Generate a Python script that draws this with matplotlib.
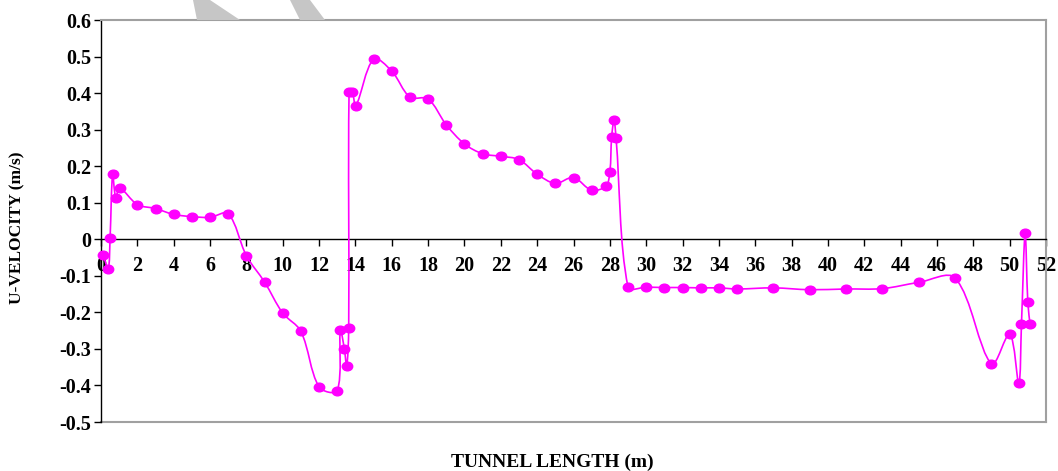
import matplotlib
matplotlib.use("Agg")
import matplotlib.pyplot as plt
import numpy as np
from matplotlib.path import Path
from matplotlib.patches import PathPatch, Polygon
from matplotlib.transforms import Affine2D

# U-velocity along the tunnel
x_m = [0.13, 0.4, 0.5, 0.64, 0.81, 1.03, 2.0, 3.0, 4.0, 5.0, 6.0, 7.0, 8.0, 9.0,
       10.0, 11.0, 12.0, 13.0, 13.17, 13.39, 13.52, 13.63, 13.65, 13.83, 14.02,
       15.0, 16.0, 17.0, 18.0, 19.0, 20.0, 21.0, 22.0, 23.0, 24.0, 25.0, 26.0,
       27.0, 27.79, 28.0, 28.1, 28.23, 28.34, 29.0, 30.0, 31.0, 32.0, 33.0, 34.0,
       35.0, 37.0, 39.0, 41.0, 43.0, 45.0, 47.0, 49.0, 50.0, 50.5, 50.65, 50.85,
       51.0, 51.12]
u_vel = [-0.044, -0.081, 0.004, 0.178, 0.114, 0.14, 0.095, 0.084, 0.068, 0.062,
         0.06, 0.07, -0.045, -0.117, -0.202, -0.252, -0.404, -0.414, -0.248, -0.3,
         -0.348, -0.244, 0.402, 0.403, 0.365, 0.493, 0.46, 0.389, 0.384, 0.313,
         0.261, 0.234, 0.227, 0.218, 0.178, 0.153, 0.169, 0.134, 0.146, 0.184,
         0.28, 0.326, 0.278, -0.131, -0.131, -0.132, -0.132, -0.133, -0.133,
         -0.136, -0.133, -0.138, -0.136, -0.135, -0.118, -0.106, -0.341, -0.259,
         -0.394, -0.231, 0.016, -0.173, -0.231]

x_ticks = list(range(0, 53, 2))
y_ticks = [0.6, 0.5, 0.4, 0.3, 0.2, 0.1, 0, -0.1, -0.2, -0.3, -0.4, -0.5]
y_tick_labels = ['0.6', '0.5', '0.4', '0.3', '0.2', '0.1', '0',
                 '-0.1', '-0.2', '-0.3', '-0.4', '-0.5']


def smooth_path(ax, xs, ys):
    """Bezier 'smoothed line' through the points, tangents weighted by the
    on-screen length of the neighbouring segments."""
    p = np.column_stack([xs, ys]).astype(float)
    s = ax.transData.transform(p)          # pixel space for segment lengths
    n = len(p)
    d = np.hypot(*np.diff(s, axis=0).T)    # d[i] = length of segment i -> i+1

    def tangent(i):
        a = p[max(i - 1, 0)]
        b = p[min(i + 1, n - 1)]
        return b - a

    verts = [p[0]]
    codes = [Path.MOVETO]
    for i in range(n - 1):
        dp = d[i - 1] if i > 0 else 0.0
        dn = d[i + 1] if i + 1 < n - 1 else 0.0
        f1 = d[i] / (dp + d[i]) / 3.0 if i > 0 else 1.0 / 6.0
        f2 = d[i] / (d[i] + dn) / 3.0 if i + 1 < n - 1 else 1.0 / 6.0
        c1 = p[i] + tangent(i) * f1
        c2 = p[i + 1] - tangent(i + 1) * f2
        verts += [c1, c2, p[i + 1]]
        codes += [Path.CURVE4] * 3
    return Path(verts, codes)


plt.rcParams['font.family'] = ['Liberation Serif', 'DejaVu Serif']
plt.rcParams['font.weight'] = 'bold'

fig = plt.figure(figsize=(10.58, 4.71), dpi=100)

# faint grey strokes peeking above the plot area
for pts in ([(193, 0), (210, 0), (240, 20), (197, 20)],
            [(290, 0), (310, 0), (325, 20), (300, 20)]):
    fig.patches.append(Polygon([(px / 1058, 1 - py / 471) for px, py in pts],
                               closed=True, transform=fig.transFigure,
                               facecolor='#c6c6c6', edgecolor='none'))

ax = fig.add_axes([101 / 1058, 49 / 471, 945 / 1058, 402 / 471])
ax.set_xlim(0, 52)
ax.set_ylim(-0.5, 0.6)

# slightly wide oval marker
oval = Path.unit_circle().transformed(Affine2D().scale(1.2, 1.0))

ax.add_patch(PathPatch(smooth_path(ax, x_m, u_vel), facecolor='none',
                       edgecolor='#ff00ff', linewidth=1.2, zorder=3))
ax.plot(x_m, u_vel, linestyle='none', marker=oval, markersize=7.5,
        color='#ff00ff', zorder=4, clip_on=False)

# grey outer frame, black axes through the origin
for side in ('top', 'right'):
    ax.spines[side].set_color('#a0a0a0')
    ax.spines[side].set_linewidth(1.5)
ax.axhline(-0.5, color='#a0a0a0', linewidth=1.5, clip_on=False, zorder=1)
ax.spines['bottom'].set_position(('data', 0))
ax.spines['bottom'].set_color('black')
ax.spines['bottom'].set_linewidth(1.0)
ax.spines['left'].set_color('black')
ax.spines['left'].set_linewidth(1.0)

ax.set_xticks(x_ticks)
ax.set_xticklabels([str(t) for t in x_ticks])
ax.set_yticks(y_ticks)
ax.set_yticklabels(y_tick_labels)
ax.tick_params(axis='x', direction='out', length=5, width=1, pad=7, labelsize=14.5)
ax.tick_params(axis='y', direction='out', length=5, width=1, pad=2, labelsize=14.5)
for lbl in ax.get_xticklabels() + ax.get_yticklabels():
    lbl.set_fontweight('bold')

fig.text(17 / 1058, 1 - 228 / 471, 'U-VELOCITY (m/s)', rotation=90,
         ha='center', va='center', fontsize=12.5, fontweight='bold')
fig.text(552 / 1058, 1 - 462 / 471, 'TUNNEL LENGTH (m)',
         ha='center', va='center', fontsize=14, fontweight='bold')

fig.savefig('out.png', dpi=100)
